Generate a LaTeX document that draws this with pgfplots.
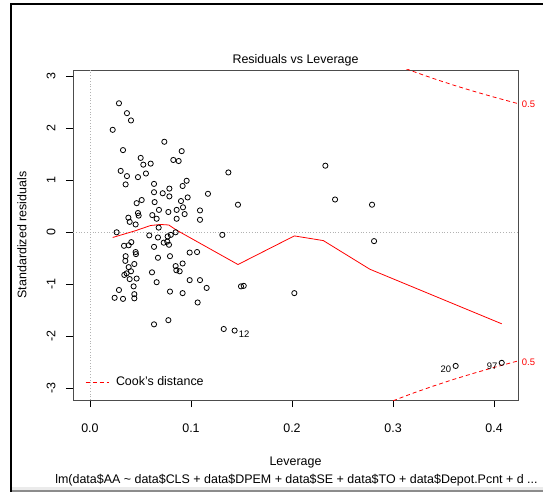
\documentclass[border=0pt]{standalone}
\usepackage{fontspec}
\setmainfont{Liberation Sans}
\usepackage{pgfplots}
\pgfplotsset{compat=1.18}
\usepackage{pgfplotstable}

% leverage vs standardized residuals
\pgfplotstableread{
lev res
0.0225 1.97
0.0287 2.48
0.0366 2.29
0.0406 2.15
0.0327 1.58
0.0736 1.74
0.0908 1.56
0.0825 1.39
0.0878 1.37
0.0502 1.43
0.0528 1.30
0.0601 1.32
0.0304 1.18
0.0366 1.08
0.0475 1.06
0.0554 1.13
0.0353 0.92
0.0634 0.93
0.0634 0.77
0.0720 0.75
0.0786 0.84
0.0786 0.69
0.0917 0.89
0.0957 0.99
0.0967 0.67
0.0901 0.60
0.1168 0.74
0.1370 1.15
0.1465 0.53
0.0462 0.56
0.0512 0.62
0.0640 0.58
0.0683 0.43
0.0776 0.39
0.0858 0.43
0.0921 0.48
0.0937 0.35
0.1089 0.42
0.1089 0.24
0.0858 0.26
0.0617 0.33
0.0660 0.26
0.0475 0.37
0.0482 0.32
0.0380 0.28
0.0393 0.20
0.0452 0.15
0.0680 0.09
0.0264 0.00
0.1310 -0.05
0.0587 -0.06
0.0673 -0.10
0.0800 -0.05
0.0848 0.00
0.0769 -0.08
0.0634 -0.28
0.0730 -0.20
0.0782 -0.24
0.0765 -0.18
0.0337 -0.26
0.0383 -0.25
0.0409 -0.19
0.0452 -0.38
0.0455 -0.42
0.0353 -0.46
0.0350 -0.55
0.0439 -0.61
0.0673 -0.49
0.0792 -0.46
0.0987 -0.39
0.1060 -0.38
0.0917 -0.60
0.0848 -0.65
0.0855 -0.73
0.0888 -0.75
0.0383 -0.67
0.0406 -0.75
0.0363 -0.79
0.0340 -0.82
0.0393 -0.90
0.0462 -0.89
0.0614 -0.77
0.0660 -0.96
0.0432 -1.04
0.0439 -1.19
0.0439 -1.27
0.0287 -1.11
0.0244 -1.26
0.0327 -1.28
0.0792 -1.14
0.0917 -1.17
0.1066 -1.35
0.0987 -0.92
0.1089 -0.92
0.1155 -1.07
0.1495 -1.04
0.1522 -1.03
0.0634 -1.77
0.0776 -1.69
0.1324 -1.86
0.1432 -1.89
0.2330 1.28
0.2426 0.63
0.2792 0.53
0.2812 -0.17
0.2023 -1.17
0.3620 -2.57
0.4076 -2.51
}\residtable

\newcommand{\rfont}{\fontsize{12.5}{15}\selectfont}
\newcommand{\sfont}{\fontsize{9.5}{11}\selectfont}

\begin{document}
\begin{tikzpicture}
\path[use as bounding box] (0bp,0bp) rectangle (543bp,-492bp);
% window frame of the screenshot
\fill[black] (10.3bp,-2.7bp) rectangle (543bp,-4.7bp);
\fill[black] (10.3bp,-2.7bp) rectangle (12.3bp,-492bp);
\fill[black!8] (12.3bp,-486.5bp) rectangle (543bp,-490bp);
\fill[black!45] (12.3bp,-490bp) rectangle (543bp,-492bp);

\begin{axis}[
    at={(73bp,-400bp)}, anchor=south west,
    width=445bp, height=330bp, scale only axis,
    xmin=-0.0168, xmax=0.4237, ymin=-3.225, ymax=3.12,
    axis line style={black!70, line width=0.9bp},
    xtick={0,0.1,0.2,0.3,0.4}, xticklabels={0.0,0.1,0.2,0.3,0.4},
    ytick={-3,-2,-1,0,1,2,3}, yticklabels={-3,-2,-1,0,1,2,3},
    xtick pos=bottom, ytick pos=left,
    tick align=outside, major tick length=7bp,
    tick style={black, line width=0.7bp},
    tick label style={font=\rfont},
    xticklabel shift=13bp,
    yticklabel shift=7bp,
    yticklabel style={rotate=90, anchor=south},
    legend style={at={(rel axis cs:0.027,0.054)}, anchor=west, draw=none, fill=none,
        font=\rfont, inner sep=0pt},
    legend image code/.code={\draw[#1] (0bp,0bp) -- (23bp,0bp);},
]
% dotted reference lines
\addplot[black!30, dotted, line width=0.8bp, forget plot] coordinates {(-0.0168,0) (0.4237,0)};
\addplot[black!30, dotted, line width=0.8bp, forget plot] coordinates {(0,-3.225) (0,3.12)};

% smoother
\addplot[red, line width=0.8bp, forget plot] coordinates {
(0.0225,-0.10) (0.045,0.03) (0.06,0.13) (0.07,0.15) (0.078,0.14) (0.0858,0.04)
(0.1465,-0.62) (0.2023,-0.07) (0.231,-0.16) (0.277,-0.71) (0.4076,-1.76)};

% Cook's distance 0.5 contours
\addplot[red, dash pattern=on 4bp off 3bp, line width=0.8bp, forget plot] coordinates {
(0.30,3.240) (0.31,3.165) (0.32,3.092) (0.34,2.956) (0.36,2.828)
(0.38,2.710) (0.40,2.598) (0.42,2.493) (0.4237,2.474)};
\addplot[red, dash pattern=on 4bp off 3bp, line width=0.8bp] coordinates {
(0.30,-3.240) (0.31,-3.165) (0.32,-3.092) (0.34,-2.956) (0.36,-2.828)
(0.38,-2.710) (0.40,-2.598) (0.42,-2.493) (0.4237,-2.474)};
\addlegendentry{\hspace*{5bp}Cook's distance}

\addplot[only marks, mark=o, mark size=2.6bp, black, mark options={line width=0.8bp}, forget plot]
    table[x=lev, y=res] {\residtable};

\node[font=\sfont] at (axis cs:0.1525,-1.956) {12};
\node[font=\sfont] at (axis cs:0.3522,-2.638) {20};
\node[font=\sfont] at (axis cs:0.3980,-2.571) {97};
\end{axis}

\node[red, font=\sfont] at (528.5bp,-104.7bp) {0.5};
\node[red, font=\sfont] at (528.5bp,-362bp) {0.5};

\node[font=\rfont, anchor=base] at (295.5bp,-63.5bp) {Residuals vs Leverage};
\node[font=\rfont, anchor=base] at (295.5bp,-465.3bp) {Leverage};
\node[font=\rfont, anchor=base] at (296.5bp,-483bp)
    {lm(data\$AA \textasciitilde{} data\$CLS + data\$DPEM + data\$SE + data\$TO + data\$Depot.Pcnt + d ...};
\node[font=\rfont, rotate=90] at (22bp,-235bp) {Standardized residuals};
\end{tikzpicture}
\end{document}
